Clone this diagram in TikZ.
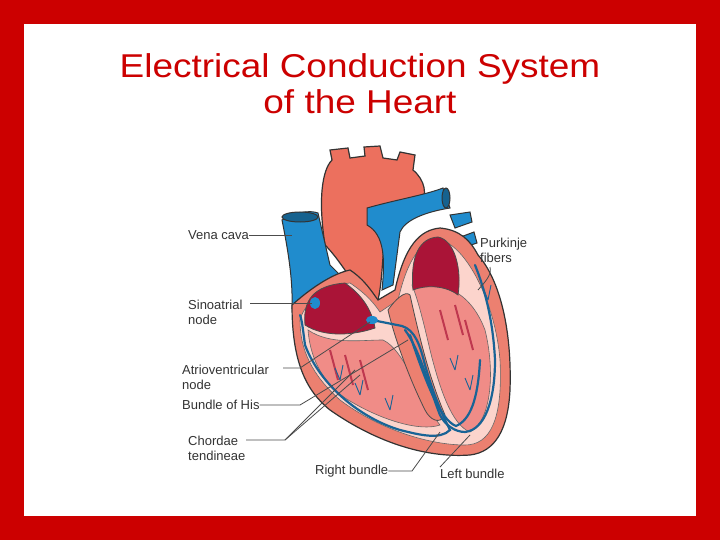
\documentclass[tikz,border=0pt]{standalone}
\usepackage{fontspec}
\setmainfont{Liberation Sans}
\definecolor{wallc}{RGB}{236,128,112}
\definecolor{aortac}{RGB}{236,112,94}
\definecolor{linec}{RGB}{252,212,204}
\definecolor{musc}{RGB}{240,140,135}
\definecolor{cavc}{RGB}{170,20,55}
\definecolor{bluec}{RGB}{32,140,205}
\definecolor{condc}{RGB}{25,100,150}
\definecolor{frame}{RGB}{204,0,0}
\begin{document}
\begin{tikzpicture}[x=1pt,y=-1pt,
  lbl/.style={font=\fontsize{13}{15}\selectfont,text=black!80,align=left,inner sep=0pt,anchor=west},
  lead/.style={draw=black!70,line width=0.8pt},
  blue/.style={fill=bluec,draw=black!80,line width=1pt},
  wall/.style={fill=wallc,draw=black!80,line width=1.2pt},
  cav/.style={fill=cavc,draw=black!70,line width=0.8pt},
  cond/.style={draw=condc,line width=2.2pt,line cap=round}]
\fill[frame] (0,0) rectangle (720,540);
\fill[white] (24,24) rectangle (696,516);
\node[font=\fontsize{33}{36}\selectfont,text=frame,align=center,xscale=1.12] (title) at (360,84) {Electrical Conduction System\\of the Heart};
% aorta
\path[wall,fill=aortac] (325,245) .. controls (318,200) and (322,170) .. (332,160) -- (330,150) -- (348,148) -- (350,158) -- (365,156) -- (364,147) -- (380,146) -- (383,158) -- (397,160) -- (400,152) -- (415,155) -- (413,170) .. controls (425,180) and (428,195) .. (420,205) -- (395,210) .. controls (380,230) and (385,270) .. (378,300) -- (368,300) .. controls (350,280) and (340,260) .. (325,245) -- cycle;
% vena cava
\path[blue] (282,220) .. controls (295,212) and (310,210) .. (318,213) -- (330,265) -- (340,275) -- (300,305) -- (292,308) .. controls (293,280) and (288,250) .. (282,220) -- cycle;
\path[blue,fill=bluec!70!black] (300,217) ellipse (18 and 5);
% pulmonary veins
\path[blue] (450,215) -- (470,212) -- (472,222) -- (455,228) -- cycle;
\path[blue] (458,238) -- (474,232) -- (477,243) -- (462,248) -- cycle;
% heart body
\path[wall] (292,305) .. controls (320,280) and (340,272) .. (350,270) .. controls (365,280) and (372,292) .. (378,300) -- (395,290) .. controls (405,245) and (420,230) .. (440,228) .. controls (460,230) and (470,240) .. (478,255) .. controls (500,280) and (512,330) .. (510,390) .. controls (508,430) and (495,452) .. (470,455) .. controls (430,458) and (380,445) .. (330,410) .. controls (305,390) and (292,360) .. (292,305) -- cycle;
% inner lining
\path[fill=linec,draw=black!60,line width=0.6pt] (300,320) .. controls (305,300) and (330,285) .. (350,283) .. controls (368,295) and (375,305) .. (380,312) -- (398,300) .. controls (408,258) and (420,242) .. (440,240) .. controls (465,245) and (495,300) .. (500,360) .. controls (503,420) and (490,445) .. (465,445) .. controls (430,445) and (380,430) .. (340,400) .. controls (312,375) and (300,350) .. (300,320) -- cycle;
% ventricle muscle
\path[fill=musc,draw=black!60,line width=0.6pt] (308,330) .. controls (330,345) and (360,340) .. (383,340) .. controls (405,350) and (420,400) .. (440,425) .. controls (420,432) and (380,420) .. (345,398) .. controls (320,380) and (310,355) .. (308,330) -- cycle;
\path[fill=musc,draw=black!60,line width=0.6pt] (412,285) .. controls (440,280) and (470,290) .. (485,330) .. controls (495,370) and (492,420) .. (470,432) .. controls (452,425) and (440,390) .. (430,350) .. controls (423,320) and (418,300) .. (412,285) -- cycle;
\foreach \a/\b in {330/350,345/355,360/360,440/310,455/305,465/320}
  \draw[cavc!70!musc,line width=2pt] (\a,\b) -- ++(8,30);
% septum
\path[fill=wallc,draw=black!70,line width=0.8pt] (388,310) .. controls (395,300) and (405,290) .. (410,295) .. controls (420,340) and (430,380) .. (445,415) .. controls (440,425) and (430,420) .. (425,410) .. controls (410,380) and (395,340) .. (388,310) -- cycle;
% pulmonary artery
\path[blue] (367,208) .. controls (395,200) and (425,195) .. (443,188) -- (450,208) .. controls (425,212) and (405,220) .. (400,232) -- (393,285) -- (382,290) .. controls (385,260) and (385,235) .. (367,225) -- cycle;
\path[blue,fill=bluec!70!black] (446,198) ellipse (4 and 10);
% cavities
\path[cav] (305,325) .. controls (302,295) and (320,285) .. (345,283) .. controls (362,295) and (372,310) .. (375,328) .. controls (355,335) and (325,338) .. (305,325) -- cycle;
\path[cav] (413,290) .. controls (410,255) and (420,238) .. (438,237) .. controls (455,240) and (462,270) .. (458,295) .. controls (445,285) and (425,285) .. (413,290) -- cycle;
% conduction system
\path[cond] (372,320) -- (402,326) .. controls (415,330) and (420,345) .. (425,365) .. controls (435,400) and (445,420) .. (450,430) .. controls (440,440) and (420,435) .. (400,430) .. controls (360,418) and (320,385) .. (305,345) .. controls (303,330) and (302,320) .. (300,315);
\path[cond] (405,330) .. controls (420,350) and (430,390) .. (440,415) .. controls (445,425) and (455,432) .. (465,432) .. controls (485,430) and (495,400) .. (495,360) .. controls (493,320) and (485,290) .. (475,265);
\path[cond] (410,335) .. controls (425,380) and (440,420) .. (456,426) .. controls (470,420) and (478,400) .. (480,360);
\foreach \a/\b in {340/380,360/395,390/410,470/390,455/370,488/300}
  \draw[condc,line width=0.9pt] (\a,\b) -- ++(3,-15) (\a,\b) -- ++(-5,-12);
\fill[bluec] (315,303) ellipse (5 and 6);
\fill[bluec] (372,320) ellipse (6 and 4);
% labels
\node[lbl] (vc) at (188,235) {Vena cava};
\node[lbl] (sa) at (188,312) {Sinoatrial\\node};
\node[lbl] (av) at (182,377) {Atrioventricular\\node};
\node[lbl] (bh) at (182,405) {Bundle of His};
\node[lbl] (ct) at (188,448) {Chordae\\tendineae};
\node[lbl] (rb) at (315,471) {Right bundle};
\node[lbl] (lb) at (440,474) {Left bundle};
\node[lbl] (pf) at (480,250) {Purkinje\\fibers};
\coordinate (vcE) at (292,235);
\coordinate (saE) at (312,303);
\coordinate (avE) at (370,322);
\coordinate (bhE) at (408,340);
\coordinate (ctE1) at (360,375);
\coordinate (ctE2) at (355,370);
\coordinate (rbE) at (440,432);
\coordinate (lbE) at (470,435);
\coordinate (pfE) at (478,290);
\draw[lead] (vc.east) -- (vcE);
\draw[lead] (250,303) -- (saE);
\draw[lead] (283,368) -- (300,368) -- (avE);
\draw[lead] (bh.east) -- (300,405) -- (bhE);
\draw[lead] (246,440) -- (285,440) -- (ctE1);
\draw[lead] (285,440) -- (ctE2);
\draw[lead] (rb.east) -- (412,471) -- (rbE);
\draw[lead] (lb.north west) ++(0,-2) -- (lbE);
\draw[lead] (490,267) .. controls (492,275) and (485,282) .. (pfE);
\end{tikzpicture}
\end{document}
